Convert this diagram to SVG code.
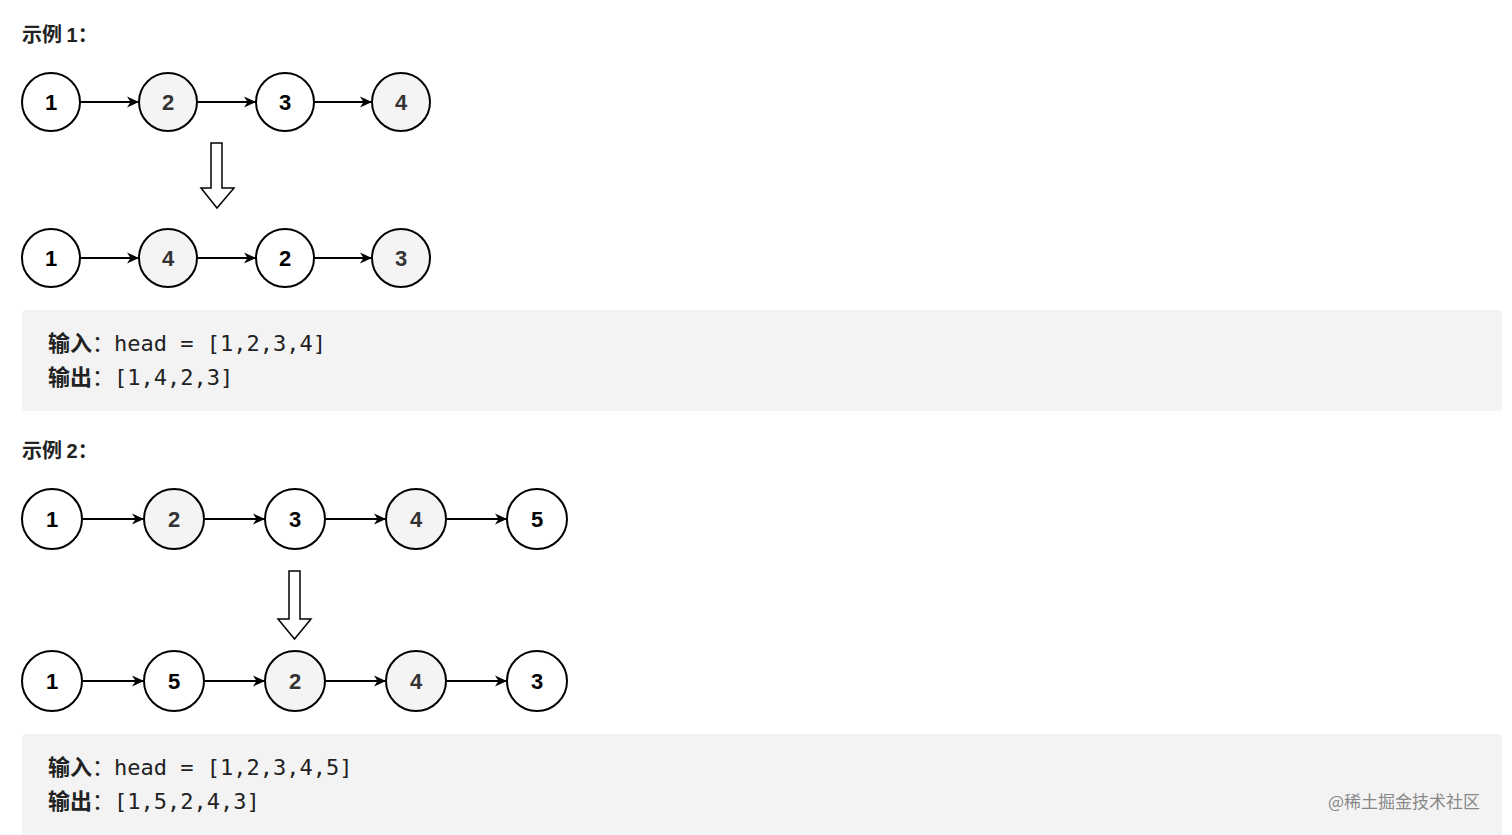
<svg xmlns="http://www.w3.org/2000/svg" width="1512" height="835" viewBox="0 0 1512 835">
<defs>
<marker id="ah" viewBox="0 0 12 12" refX="12" refY="6" markerWidth="12" markerHeight="12" markerUnits="userSpaceOnUse" orient="auto">
<path d="M0,0.5 L12,6 L0,11.5 L3.5,6 Z" fill="#000"/>
</marker>
</defs>
<style>
.title{font-family:"Noto Sans CJK SC","Liberation Sans",sans-serif;font-size:20px;font-weight:bold;fill:#222}
.n{fill:#fff;stroke:#000;stroke-width:2}
.g{fill:#f4f4f4;stroke:#000;stroke-width:2}
.nt{font-family:"Liberation Sans",Arial,sans-serif;font-size:22px;font-weight:bold;fill:#000;text-anchor:middle;dominant-baseline:central}
.gt{font-family:"Liberation Sans",Arial,sans-serif;font-size:22px;font-weight:bold;fill:#333;text-anchor:middle;dominant-baseline:central}
.e{stroke:#000;stroke-width:1.8;fill:none;marker-end:url(#ah)}
.big{fill:#fff;stroke:#000;stroke-width:1.5}
.box{fill:#f3f3f4}
.code{font-family:"DejaVu Sans Mono","Noto Sans CJK SC",monospace;font-size:22px;fill:#222}
.cjk{font-family:"Noto Sans CJK SC",sans-serif;font-weight:bold}
.wm{font-family:"Noto Sans CJK SC",sans-serif;font-size:17px;fill:#888}
</style>
<rect width="1512" height="835" fill="#fff"/>

<text class="title" x="22" y="42">示例 <tspan font-family="Liberation Sans">1</tspan>：</text>

<g id="ex1-top">
<g id="a1"><circle class="n" cx="51" cy="102" r="29"/><text class="nt" x="51" y="102">1</text></g>
<g id="a2"><circle class="g" cx="168" cy="102" r="29"/><text class="gt" x="168" y="102">2</text></g>
<g id="a3"><circle class="n" cx="285" cy="102" r="29"/><text class="nt" x="285" y="102">3</text></g>
<g id="a4"><circle class="g" cx="401" cy="102" r="29"/><text class="gt" x="401" y="102">4</text></g>
</g>
<g id="ex1-bottom">
<g id="b1"><circle class="n" cx="51" cy="258" r="29"/><text class="nt" x="51" y="258">1</text></g>
<g id="b4"><circle class="g" cx="168" cy="258" r="29"/><text class="gt" x="168" y="258">4</text></g>
<g id="b2"><circle class="n" cx="285" cy="258" r="29"/><text class="nt" x="285" y="258">2</text></g>
<g id="b3"><circle class="g" cx="401" cy="258" r="29"/><text class="gt" x="401" y="258">3</text></g>
</g>

<g id="ex2-top">
<g id="c1"><circle class="n" cx="52" cy="519" r="30"/><text class="nt" x="52" y="519">1</text></g>
<g id="c2"><circle class="g" cx="174" cy="519" r="30"/><text class="gt" x="174" y="519">2</text></g>
<g id="c3"><circle class="n" cx="295" cy="519" r="30"/><text class="nt" x="295" y="519">3</text></g>
<g id="c4"><circle class="g" cx="416" cy="519" r="30"/><text class="gt" x="416" y="519">4</text></g>
<g id="c5"><circle class="n" cx="537" cy="519" r="30"/><text class="nt" x="537" y="519">5</text></g>
</g>
<g id="ex2-bottom">
<g id="d1"><circle class="n" cx="52" cy="681" r="30"/><text class="nt" x="52" y="681">1</text></g>
<g id="d5"><circle class="n" cx="174" cy="681" r="30"/><text class="nt" x="174" y="681">5</text></g>
<g id="d2"><circle class="g" cx="295" cy="681" r="30"/><text class="gt" x="295" y="681">2</text></g>
<g id="d4"><circle class="g" cx="416" cy="681" r="30"/><text class="gt" x="416" y="681">4</text></g>
<g id="d3"><circle class="n" cx="537" cy="681" r="30"/><text class="nt" x="537" y="681">3</text></g>
</g>

<g id="connectors">
<line class="e" x1="81" y1="102" x2="139" y2="102"/>
<line class="e" x1="198" y1="102" x2="256" y2="102"/>
<line class="e" x1="315" y1="102" x2="372" y2="102"/>
<line class="e" x1="81" y1="258" x2="139" y2="258"/>
<line class="e" x1="198" y1="258" x2="256" y2="258"/>
<line class="e" x1="315" y1="258" x2="372" y2="258"/>
<line class="e" x1="83" y1="519" x2="144" y2="519"/>
<line class="e" x1="205" y1="519" x2="265" y2="519"/>
<line class="e" x1="326" y1="519" x2="386" y2="519"/>
<line class="e" x1="447" y1="519" x2="507" y2="519"/>
<line class="e" x1="83" y1="681" x2="144" y2="681"/>
<line class="e" x1="205" y1="681" x2="265" y2="681"/>
<line class="e" x1="326" y1="681" x2="386" y2="681"/>
<line class="e" x1="447" y1="681" x2="507" y2="681"/>
<path id="bigarrow1" class="big" d="M211,143 L222,143 L222,188 L234,188 L217,208 L201,188 L211,188 Z"/>
<path id="bigarrow2" class="big" d="M289,571 L300,571 L300,619 L311,619 L294.5,639 L278,619 L289,619 Z"/>
</g>

<g id="box1">
<rect class="box" x="22" y="310" width="1480" height="101" rx="4"/>
<text class="code" x="48" y="351"><tspan class="cjk">输入</tspan>：head = [1,2,3,4]</text>
<text class="code" x="48" y="385"><tspan class="cjk">输出</tspan>：[1,4,2,3]</text>
</g>

<text class="title" x="22" y="458">示例 <tspan font-family="Liberation Sans">2</tspan>：</text>

<g id="box2">
<rect class="box" x="22" y="734" width="1480" height="110" rx="4"/>
<text class="code" x="48" y="775"><tspan class="cjk">输入</tspan>：head = [1,2,3,4,5]</text>
<text class="code" x="48" y="809"><tspan class="cjk">输出</tspan>：[1,5,2,4,3]</text>
<text class="wm" x="1328" y="808">@稀土掘金技术社区</text>
</g>
</svg>
